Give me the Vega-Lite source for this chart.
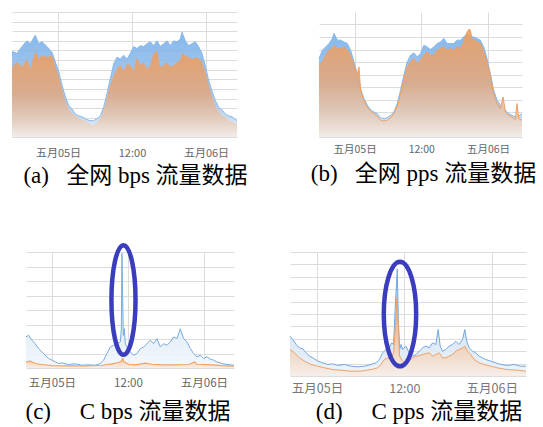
{
  "$schema": "https://vega.github.io/schema/vega-lite/v6.json",
  "background": "white",
  "padding": {"left": 10, "top": 12, "right": 0, "bottom": 0},
  "spacing": 48,
  "datasets": {
    "a": [
      {"h":-7.46,"b":89,"o":73},{"h":-6.65,"b":87,"o":78},{"h":-5.84,"b":94,"o":73},{"h":-5.03,"b":100,"o":81},
      {"h":-4.49,"b":97,"o":71},{"h":-3.68,"b":106,"o":90},{"h":-3.14,"b":97,"o":81},{"h":-2.59,"b":99,"o":85},
      {"h":-1.78,"b":94,"o":83},{"h":-0.97,"b":88,"o":85},{"h":-0.43,"b":78,"o":74},{"h":0.11,"b":68,"o":64},
      {"h":0.65,"b":54,"o":51},{"h":1.19,"b":42,"o":38},{"h":1.73,"b":33,"o":29},{"h":2.27,"b":29,"o":25},
      {"h":2.81,"b":24,"o":22},{"h":3.35,"b":22,"o":20},{"h":3.89,"b":21,"o":18},{"h":4.7,"b":18,"o":16},
      {"h":5.24,"b":17,"o":13},{"h":5.78,"b":17,"o":12},{"h":6.32,"b":19,"o":15},{"h":6.86,"b":22,"o":19},
      {"h":7.41,"b":31,"o":28},{"h":7.95,"b":45,"o":42},{"h":8.49,"b":61,"o":55},{"h":9.03,"b":76,"o":64},
      {"h":9.57,"b":83,"o":71},{"h":10.11,"b":81,"o":75},{"h":10.65,"b":85,"o":69},{"h":11.19,"b":81,"o":76},
      {"h":11.73,"b":87,"o":75},{"h":12.27,"b":94,"o":69},{"h":12.81,"b":92,"o":83},{"h":13.35,"b":95,"o":75},
      {"h":13.89,"b":94,"o":78},{"h":14.43,"b":97,"o":71},{"h":14.97,"b":99,"o":75},{"h":15.51,"b":95,"o":87},
      {"h":16.05,"b":100,"o":90},{"h":16.59,"b":94,"o":73},{"h":17.14,"b":97,"o":75},{"h":17.68,"b":100,"o":78},
      {"h":18.22,"b":95,"o":73},{"h":18.76,"b":100,"o":75},{"h":19.3,"b":99,"o":78},{"h":19.84,"b":102,"o":80},
      {"h":20.11,"b":109,"o":88},{"h":20.65,"b":100,"o":85},{"h":21.19,"b":95,"o":83},{"h":21.73,"b":97,"o":81},
      {"h":22.27,"b":99,"o":83},{"h":22.81,"b":94,"o":82},{"h":23.35,"b":87,"o":78},{"h":23.89,"b":74,"o":68},
      {"h":24.43,"b":59,"o":55},{"h":24.97,"b":48,"o":43},{"h":25.51,"b":38,"o":33},{"h":26.05,"b":31,"o":26},
      {"h":26.59,"b":28,"o":22},{"h":27.14,"b":24,"o":21},{"h":27.68,"b":22,"o":17},{"h":28.22,"b":21,"o":16},
      {"h":29.03,"b":17,"o":13}
    ],
    "b": [
      {"h":-6.41,"b":62.8,"o":57.4},{"h":-5.81,"b":69.4,"o":60.1},{"h":-5.21,"b":72.1,"o":65.4},{"h":-4.61,"b":74.8,"o":69.4},
      {"h":-4.01,"b":78.8,"o":70.8},{"h":-3.71,"b":82.8,"o":73.4},{"h":-3.11,"b":77.5,"o":70.8},{"h":-2.51,"b":77.5,"o":70.8},
      {"h":-1.92,"b":76.1,"o":72.1},{"h":-1.32,"b":74.8,"o":69.4},{"h":-0.72,"b":69.4,"o":65.4},{"h":-0.12,"b":60.1,"o":57.4},
      {"h":0.48,"b":50.7,"o":49.4},{"h":0.78,"b":45.4,"o":56.1},{"h":1.08,"b":38.7,"o":37.4},{"h":1.68,"b":30.7,"o":29.4},
      {"h":2.28,"b":25.4,"o":24.0},{"h":2.87,"b":21.9,"o":20.6},{"h":3.47,"b":20.0,"o":18.7},{"h":4.07,"b":18.7,"o":16.6},
      {"h":4.67,"b":15.5,"o":13.4},{"h":5.27,"b":14.7,"o":12.8},{"h":5.87,"b":15.5,"o":13.4},{"h":6.47,"b":17.4,"o":15.5},
      {"h":7.07,"b":20.0,"o":18.7},{"h":7.66,"b":26.7,"o":24.6},{"h":8.26,"b":37.4,"o":34.7},{"h":8.86,"b":49.4,"o":46.7},
      {"h":9.46,"b":60.1,"o":56.1},{"h":10.06,"b":65.4,"o":60.1},{"h":10.66,"b":67.3,"o":62.8},{"h":11.26,"b":64.1,"o":58.8},
      {"h":11.86,"b":66.8,"o":61.4},{"h":12.46,"b":73.4,"o":65.4},{"h":13.05,"b":72.1,"o":68.1},{"h":13.65,"b":70.0,"o":65.4},
      {"h":14.25,"b":72.1,"o":65.4},{"h":14.85,"b":74.8,"o":69.4},{"h":15.45,"b":76.1,"o":70.8},{"h":16.05,"b":78.8,"o":72.1},
      {"h":16.65,"b":74.8,"o":69.4},{"h":17.25,"b":74.8,"o":70.8},{"h":17.84,"b":74.8,"o":69.4},{"h":18.44,"b":77.5,"o":72.1},
      {"h":19.04,"b":77.5,"o":70.8},{"h":19.64,"b":80.1,"o":76.1},{"h":20.24,"b":82.8,"o":84.1},{"h":20.54,"b":80.1,"o":86.0},
      {"h":20.84,"b":81.5,"o":85.5},{"h":21.14,"b":80.1,"o":77.5},{"h":21.44,"b":80.1,"o":78.0},{"h":22.04,"b":78.8,"o":76.1},
      {"h":22.63,"b":77.5,"o":74.8},{"h":23.23,"b":72.1,"o":68.1},{"h":23.83,"b":62.8,"o":60.1},{"h":24.43,"b":50.7,"o":49.4},
      {"h":25.03,"b":37.4,"o":34.7},{"h":25.63,"b":29.4,"o":26.7},{"h":26.23,"b":25.4,"o":22.7},{"h":26.71,"b":24.0,"o":32.0},
      {"h":27.13,"b":21.4,"o":20.0},{"h":27.72,"b":18.7,"o":17.4},{"h":28.32,"b":17.4,"o":16.0},{"h":28.92,"b":16.0,"o":13.9},
      {"h":29.22,"b":16.0,"o":26.7},{"h":29.52,"b":16.6,"o":14.7},{"h":30.12,"b":18.7,"o":13.4}
    ],
    "cB": [
      {"h":-4.1,"v":21.4},{"h":-3.68,"v":22.6},{"h":-3.16,"v":19.1},{"h":-2.63,"v":16.8},{"h":-2.11,"v":13.4},
      {"h":-1.58,"v":11.1},{"h":-1.05,"v":8.8},{"h":-0.53,"v":6.5},{"h":0,"v":5.4},{"h":0.53,"v":4.2},
      {"h":1.05,"v":3.1},{"h":1.58,"v":3.5},{"h":2.63,"v":2.4},{"h":3.68,"v":2.9},{"h":4.74,"v":1.9},
      {"h":5.79,"v":2.2},{"h":6.84,"v":1.9},{"h":7.63,"v":3.1},{"h":8.16,"v":5.4},{"h":8.68,"v":10.0},
      {"h":9.21,"v":14.5},{"h":9.74,"v":15.7},{"h":10.26,"v":16.8},{"h":10.79,"v":18.0},{"h":10.95,"v":27},
      {"h":11.05,"v":79},{"h":11.16,"v":50},{"h":11.26,"v":22.5},{"h":11.42,"v":27.1},{"h":11.58,"v":16.8},
      {"h":11.84,"v":14.5},{"h":12.37,"v":11.1},{"h":12.89,"v":8.8},{"h":13.42,"v":10.0},{"h":13.95,"v":13.4},
      {"h":14.47,"v":14.5},{"h":15.0,"v":16.8},{"h":15.53,"v":19.1},{"h":16.05,"v":16.8},{"h":16.58,"v":20.3},
      {"h":17.11,"v":14.5},{"h":17.63,"v":16.8},{"h":18.16,"v":15.7},{"h":18.68,"v":18.0},{"h":19.21,"v":21.4},
      {"h":19.74,"v":20.3},{"h":20.26,"v":27.1},{"h":20.79,"v":20.3},{"h":21.32,"v":18.0},{"h":21.84,"v":13.4},
      {"h":22.37,"v":10.0},{"h":22.89,"v":7.7},{"h":23.42,"v":8.8},{"h":23.95,"v":6.5},{"h":24.47,"v":7.7},
      {"h":25.0,"v":6.1},{"h":25.53,"v":5.4},{"h":26.05,"v":4.2},{"h":26.84,"v":3.1},{"h":27.63,"v":2.4},
      {"h":28.74,"v":1.9}
    ],
    "cO": [
      {"h":-4.1,"v":4.2},{"h":-3.42,"v":4.7},{"h":-2.63,"v":3.1},{"h":-1.58,"v":2.4},{"h":0,"v":1.7},
      {"h":2.63,"v":1.5},{"h":5.26,"v":1.5},{"h":7.89,"v":1.9},{"h":9.47,"v":2.9},{"h":10.53,"v":3.8},
      {"h":10.95,"v":4.7},{"h":11.16,"v":6.5},{"h":11.37,"v":4.2},{"h":12.11,"v":2.6},{"h":13.16,"v":2.2},
      {"h":14.74,"v":3.3},{"h":15.79,"v":2.6},{"h":17.37,"v":2.2},{"h":19.47,"v":2.2},{"h":21.58,"v":2.4},
      {"h":22.53,"v":4.2},{"h":22.89,"v":2.6},{"h":25.26,"v":2.2},{"h":26.84,"v":1.7},{"h":28.74,"v":1.3}
    ],
    "cE": [{"h":11.29,"v":46.9}],
    "dB": [
      {"h":-3.7,"v":32.1},{"h":-3.31,"v":29.4},{"h":-2.85,"v":25.4},{"h":-2.4,"v":22.7},{"h":-1.94,"v":21.9},
      {"h":-1.48,"v":18.7},{"h":-1.03,"v":16.0},{"h":-0.57,"v":14.7},{"h":0.11,"v":12.0},{"h":0.8,"v":10.6},
      {"h":1.48,"v":9.3},{"h":2.17,"v":9.8},{"h":2.85,"v":8.5},{"h":3.77,"v":9.3},{"h":4.68,"v":7.9},
      {"h":5.59,"v":7.4},{"h":6.51,"v":7.9},{"h":7.42,"v":9.3},{"h":8.11,"v":10.6},{"h":8.56,"v":13.3},
      {"h":9.02,"v":18.7},{"h":9.47,"v":21.4},{"h":9.93,"v":22.7},{"h":10.25,"v":26.7},{"h":10.52,"v":25.4},
      {"h":10.71,"v":50.9},{"h":11.03,"v":86.4},{"h":11.16,"v":48.3},{"h":11.35,"v":21.4},{"h":11.53,"v":25.4},
      {"h":11.76,"v":21.4},{"h":12.21,"v":24.1},{"h":12.67,"v":18.7},{"h":13.13,"v":16.0},{"h":13.58,"v":17.3},
      {"h":14.04,"v":20.0},{"h":14.5,"v":22.7},{"h":14.95,"v":24.1},{"h":15.41,"v":22.7},{"h":15.87,"v":26.7},
      {"h":16.32,"v":25.4},{"h":16.64,"v":37.5},{"h":16.92,"v":24.1},{"h":17.24,"v":20.0},{"h":17.69,"v":21.4},
      {"h":18.15,"v":24.1},{"h":18.61,"v":25.4},{"h":19.06,"v":28.1},{"h":19.52,"v":25.4},{"h":19.98,"v":29.4},
      {"h":20.3,"v":37.5},{"h":20.57,"v":28.1},{"h":20.89,"v":22.7},{"h":21.35,"v":20.0},{"h":21.8,"v":18.7},
      {"h":22.26,"v":16.0},{"h":22.72,"v":14.7},{"h":23.17,"v":13.3},{"h":23.86,"v":12.0},{"h":24.54,"v":10.6},
      {"h":25.23,"v":9.3},{"h":26.14,"v":8.5},{"h":27.05,"v":9.3},{"h":27.97,"v":7.9},{"h":28.7,"v":7.9}
    ],
    "dO": [
      {"h":-3.7,"v":21.4},{"h":-3.08,"v":18.7},{"h":-2.4,"v":14.7},{"h":-1.71,"v":12.0},{"h":-0.8,"v":9.3},
      {"h":0.11,"v":7.9},{"h":1.03,"v":6.6},{"h":2.17,"v":5.2},{"h":3.31,"v":4.7},{"h":4.68,"v":3.9},
      {"h":6.05,"v":3.9},{"h":7.42,"v":5.2},{"h":8.33,"v":6.6},{"h":8.79,"v":9.3},{"h":9.25,"v":13.3},
      {"h":9.7,"v":14.7},{"h":10.16,"v":13.3},{"h":10.52,"v":18.7},{"h":10.8,"v":42.9},{"h":10.98,"v":63.0},
      {"h":11.16,"v":42.9},{"h":11.35,"v":16.0},{"h":11.76,"v":12.0},{"h":12.21,"v":10.6},{"h":12.67,"v":12.0},
      {"h":13.13,"v":14.7},{"h":13.58,"v":16.0},{"h":14.04,"v":16.5},{"h":14.5,"v":17.3},{"h":14.95,"v":18.1},
      {"h":15.41,"v":18.7},{"h":15.87,"v":16.0},{"h":16.32,"v":17.3},{"h":16.78,"v":18.7},{"h":17.24,"v":14.7},
      {"h":17.69,"v":14.7},{"h":18.15,"v":16.0},{"h":18.61,"v":17.3},{"h":19.06,"v":20.0},{"h":19.52,"v":21.4},
      {"h":19.98,"v":22.7},{"h":20.3,"v":24.1},{"h":20.66,"v":20.0},{"h":21.12,"v":17.3},{"h":21.58,"v":13.3},
      {"h":22.26,"v":10.6},{"h":22.95,"v":9.3},{"h":23.86,"v":7.9},{"h":24.77,"v":6.6},{"h":26.14,"v":5.2},
      {"h":27.51,"v":4.7},{"h":28.7,"v":3.9}
    ],
    "dE": [{"h":11.4,"v":49.9}],
    "sp": [{"k":1}]
  },
  "vconcat": [
    {
      "bounds": "flush",
      "spacing": 82,
      "hconcat": [
        {
          "width": 225, "height": 125,
          "data": {"name": "a"},
          "title": {"text": "(a)\u00a0\u00a0\u00a0全网 bps 流量数据", "orient": "bottom", "offset": 7, "dx": 11},
          "encoding": {
            "x": {"field": "h", "type": "quantitative", "title": null,
                  "scale": {"domain": [-7.46, 29.03], "nice": false, "zero": false},
                  "axis": {"values": [0, 12, 24], "grid": true, "labelFontSize": 11, "labelPadding": 10,
                           "labelExpr": "datum.value == 12 ? '12:00' : (datum.value == 0 ? '五月05日' : '五月06日')"}}
          },
          "layer": [
            {"mark": {"type": "area", "opacity": 0.88,
                      "color": {"gradient": "linear", "x1": 0, "y1": 0, "x2": 0, "y2": 1,
                                "stops": [{"offset": 0, "color": "#76aeea"}, {"offset": 0.7, "color": "#a9c8ea"}, {"offset": 1, "color": "#eef2f7"}]},
                      "line": {"color": "#86b9ec", "strokeWidth": 1}},
             "encoding": {"y": {"field": "b", "type": "quantitative", "title": null,
                                "scale": {"domain": [0, 130], "nice": false},
                                "axis": {"values": [0,10,20,30,40,50,60,70,80,90,100,110,120,130], "grid": true, "labels": false}}}},
            {"mark": {"type": "area", "opacity": 0.88,
                      "color": {"gradient": "linear", "x1": 0, "y1": 0, "x2": 0, "y2": 1,
                                "stops": [{"offset": 0, "color": "#f09d5b"}, {"offset": 0.5, "color": "#dea884"}, {"offset": 0.8, "color": "#e5cbb8"}, {"offset": 1, "color": "#f3ebe6"}]}},
             "encoding": {"y": {"field": "o", "type": "quantitative", "title": null,
                                "axis": {"values": [0,10,20,30,40,50,60,70,80,90,100,110,120,130], "grid": true, "labels": false}}}}
          ]
        },
        {
          "width": 203, "height": 125,
          "data": {"name": "b"},
          "title": {"text": "(b)\u00a0\u00a0\u00a0全网 pps 流量数据", "orient": "bottom", "offset": 8, "dx": 3},
          "encoding": {
            "x": {"field": "h", "type": "quantitative", "title": null,
                  "scale": {"domain": [-6.41, 30.12], "nice": false, "zero": false},
                  "axis": {"values": [0, 12, 24], "grid": true, "labelFontSize": 10.5, "labelPadding": 7,
                           "labelExpr": "datum.value == 12 ? '12:00' : (datum.value == 0 ? '五月05日' : '五月06日')"}}
          },
          "layer": [
            {"mark": {"type": "area", "opacity": 0.88,
                      "color": {"gradient": "linear", "x1": 0, "y1": 0, "x2": 0, "y2": 1,
                                "stops": [{"offset": 0, "color": "#76aeea"}, {"offset": 0.7, "color": "#a9c8ea"}, {"offset": 1, "color": "#eef2f7"}]},
                      "line": {"color": "#86b9ec", "strokeWidth": 1}},
             "encoding": {"y": {"field": "b", "type": "quantitative", "title": null,
                                "scale": {"domain": [0, 100], "nice": false},
                                "axis": {"values": [0,10,20,30,40,50,60,70,80,90], "grid": true, "labels": false}}}},
            {"mark": {"type": "area", "opacity": 0.88,
                      "color": {"gradient": "linear", "x1": 0, "y1": 0, "x2": 0, "y2": 1,
                                "stops": [{"offset": 0, "color": "#f09d5b"}, {"offset": 0.5, "color": "#dea884"}, {"offset": 0.8, "color": "#e5cbb8"}, {"offset": 1, "color": "#f3ebe6"}]},
                      "line": {"color": "#eea060", "strokeWidth": 1}},
             "encoding": {"y": {"field": "o", "type": "quantitative", "title": null,
                                "axis": {"values": [0,10,20,30,40,50,60,70,80,90], "grid": true, "labels": false}}}}
          ]
        }
      ]
    },
    {
      "bounds": "flush",
      "spacing": 0,
      "hconcat": [
        {
          "width": 14, "height": 116,
          "data": {"name": "sp"},
          "mark": {"type": "text", "text": ""}
        },
        {
          "bounds": "flush",
          "spacing": 56,
          "hconcat": [
            {
              "width": 208, "height": 116,
              "title": {"text": "(c)\u00a0\u00a0\u00a0\u00a0\u00a0C bps 流量数据", "orient": "bottom", "offset": 12, "dx": -2},
              "encoding": {
                "x": {"field": "h", "type": "quantitative", "title": null,
                      "scale": {"domain": [-4.1, 28.74], "nice": false, "zero": false},
                      "axis": {"values": [0, 12, 24], "grid": true, "labelFontSize": 11.5, "labelPadding": 9,
                               "labelExpr": "datum.value == 12 ? '12:00' : (datum.value == 0 ? '五月05日' : '五月06日')"}},
                "y": {"field": "v", "type": "quantitative", "title": null,
                      "scale": {"domain": [0, 80], "nice": false},
                      "axis": {"values": [0,10,20,30,40,50,60,70,80], "grid": true, "labels": false}}
              },
              "layer": [
                {"data": {"name": "cB"},
                 "mark": {"type": "area", "opacity": 0.9,
                          "color": {"gradient": "linear", "x1": 0, "y1": 0, "x2": 0, "y2": 1,
                                    "stops": [{"offset": 0, "color": "#b5d0ee"}, {"offset": 0.6, "color": "#dbe8f6"}, {"offset": 1, "color": "#f3f7fc"}]},
                          "line": {"color": "#78abe0", "strokeWidth": 1}}},
                {"data": {"name": "cO"},
                 "mark": {"type": "area", "opacity": 0.9,
                          "color": {"gradient": "linear", "x1": 0, "y1": 0, "x2": 0, "y2": 1,
                                    "stops": [{"offset": 0, "color": "#f3c7a3"}, {"offset": 1, "color": "#faede3"}]},
                          "line": {"color": "#f0a462", "strokeWidth": 1.2}}},
                {"data": {"name": "cE"},
                 "mark": {"type": "point", "filled": false, "opacity": 1, "stroke": "#3b3dbf", "strokeWidth": 4.5, "size": 11990,
                          "shape": "M0,-1C0.122,-1 0.22,-0.552 0.22,0C0.22,0.552 0.122,1 0,1C-0.122,1 -0.22,0.552 -0.22,0C-0.22,-0.552 -0.122,-1 0,-1Z"}}
              ]
            },
            {
              "width": 236, "height": 124,
              "title": {"text": "(d)\u00a0\u00a0\u00a0\u00a0\u00a0C pps 流量数据", "orient": "bottom", "offset": 6, "dx": 11},
              "encoding": {
                "x": {"field": "h", "type": "quantitative", "title": null,
                      "scale": {"domain": [-3.7, 28.7], "nice": false, "zero": false},
                      "axis": {"values": [0, 12, 24], "grid": true, "labelFontSize": 12.5, "labelPadding": 6, "labelColor": "#777777",
                               "labelExpr": "datum.value == 12 ? '12:00' : (datum.value == 0 ? '五月05日' : '五月06日')"}},
                "y": {"field": "v", "type": "quantitative", "title": null,
                      "scale": {"domain": [0, 100], "nice": false},
                      "axis": {"values": [0,10,20,30,40,50,60,70,80,90,100], "grid": true, "labels": false}}
              },
              "layer": [
                {"data": {"name": "dB"},
                 "mark": {"type": "area", "opacity": 0.9,
                          "color": {"gradient": "linear", "x1": 0, "y1": 0, "x2": 0, "y2": 1,
                                    "stops": [{"offset": 0, "color": "#a7c8ec"}, {"offset": 0.6, "color": "#d3e3f4"}, {"offset": 1, "color": "#eef4fa"}]},
                          "line": {"color": "#74a8de", "strokeWidth": 1}}},
                {"data": {"name": "dO"},
                 "mark": {"type": "area", "opacity": 0.9,
                          "color": {"gradient": "linear", "x1": 0, "y1": 0, "x2": 0, "y2": 1,
                                    "stops": [{"offset": 0, "color": "#eba06a"}, {"offset": 0.6, "color": "#efcdb3"}, {"offset": 1, "color": "#f7eee8"}]},
                          "line": {"color": "#eea266", "strokeWidth": 1}}},
                {"data": {"name": "dE"},
                 "mark": {"type": "point", "filled": false, "opacity": 1, "stroke": "#3b3dbf", "strokeWidth": 4.5, "size": 10920,
                          "shape": "M0,-1C0.171,-1 0.31,-0.552 0.31,0C0.31,0.552 0.171,1 0,1C-0.171,1 -0.31,0.552 -0.31,0C-0.31,-0.552 -0.171,-1 0,-1Z"}}
              ]
            }
          ]
        }
      ]
    }
  ],
  "config": {
    "view": {"stroke": null},
    "axis": {"domain": false, "ticks": false, "gridColor": "#dcdcdc", "gridWidth": 1, "title": null},
    "axisX": {"labelFont": "Noto Sans CJK SC", "labelColor": "#666666", "labelFlush": false, "labelOverlap": false},
    "title": {"font": "Liberation Serif, Noto Sans CJK SC", "fontSize": 23, "fontWeight": "normal", "color": "#000000", "anchor": "middle"}
  }
}
